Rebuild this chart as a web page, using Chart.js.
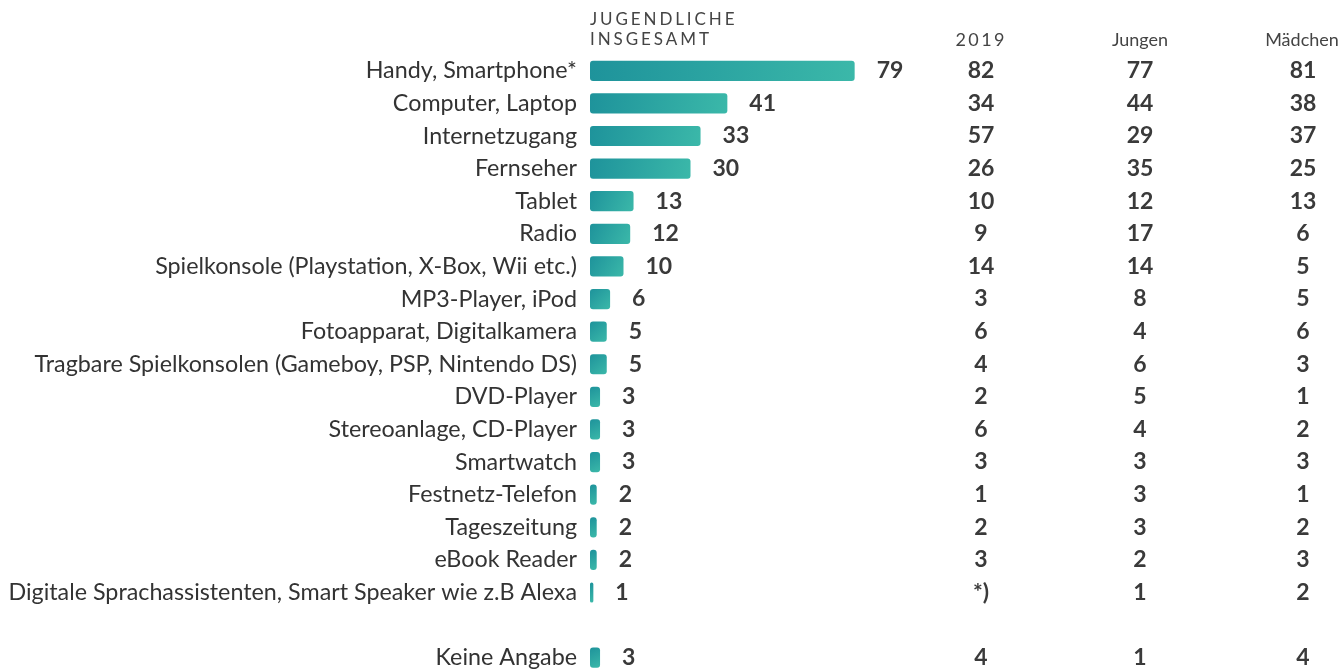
<!DOCTYPE html>
<html><head><meta charset="utf-8">
<script src="https://cdn.jsdelivr.net/npm/chart.js@4.4.1/dist/chart.umd.min.js"></script>
<style>
html,body{margin:0;padding:0;background:#fff;overflow:hidden;}
#wrap{position:relative;width:1342px;height:674px;}
</style></head>
<body><div id="wrap"><canvas id="c"></canvas></div>
<script>
const categories = ["Handy, Smartphone*","Computer, Laptop","Internetzugang","Fernseher","Tablet","Radio","Spielkonsole (Playstation, X-Box, Wii etc.)","MP3-Player, iPod","Fotoapparat, Digitalkamera","Tragbare Spielkonsolen (Gameboy, PSP, Nintendo DS)","DVD-Player","Stereoanlage, CD-Player","Smartwatch","Festnetz-Telefon","Tageszeitung","eBook Reader","Digitale Sprachassistenten, Smart Speaker wie z.B Alexa","","Keine Angabe"];
const insgesamt = [79,41,33,30,13,12,10,6,5,5,3,3,3,2,2,2,1,null,3];
const jahr2019 = ["82","34","57","26","10","9","14","3","6","4","2","6","3","1","2","3","*)","","4"];
const jungen = [77,44,29,35,12,17,14,8,4,6,5,4,3,3,3,2,1,null,1];
const maedchen = [81,38,37,25,13,6,5,5,6,3,1,2,3,1,2,3,2,null,4];
const columnHeaders = ["2019","Jungen","Mädchen"];
const mainHeader = ["JUGENDLICHE","INSGESAMT"];

function drawSpaced(ctx, text, x, y, sp, align){
  let w = 0; const chars=[...text];
  chars.forEach((ch,i)=>{ w += ctx.measureText(ch).width + (i<chars.length-1?sp:0); });
  let cx = align==='center' ? x - w/2 : x;
  ctx.textAlign='left';
  chars.forEach(ch=>{ ctx.fillText(ch,cx,y); cx += ctx.measureText(ch).width + sp; });
}

const overlay = {
  id:'overlay',
  afterDatasetsDraw(chart){
    const ctx = chart.ctx, xs = chart.scales.x, ys = chart.scales.y;
    ctx.save();
    ctx.textBaseline='middle';
    ctx.fillStyle='#444';
    ctx.font='400 17px Lato';
    drawSpaced(ctx, mainHeader[0], 590, 20, 2.9, 'left');
    drawSpaced(ctx, mainHeader[1], 590, 40, 2.9, 'left');
    ctx.font='400 18px Lato';
    drawSpaced(ctx, columnHeaders[0], 980, 40, 2.4, 'center');
    ctx.textAlign='center';
    ctx.fillText(columnHeaders[1], 1140, 40);
    ctx.fillText(columnHeaders[2], 1302, 40);
    ctx.font='700 23px Lato';
    ctx.fillStyle='#3a3a3a';
    categories.forEach((c,i)=>{
      const y = ys.getPixelForValue(i);
      if(insgesamt[i]!=null){
        ctx.textAlign='left';
        ctx.fillText(String(insgesamt[i]), xs.getPixelForValue(insgesamt[i])+22, y);
      }
      ctx.textAlign='center';
      if(jahr2019[i]) ctx.fillText(jahr2019[i], 981, y);
      if(jungen[i]!=null) ctx.fillText(String(jungen[i]), 1140, y);
      if(maedchen[i]!=null) ctx.fillText(String(maedchen[i]), 1303, y);
    });
    ctx.restore();
  }
};

new Chart(document.getElementById('c'), {
  type:'bar',
  data:{ labels:categories, datasets:[{
    data:insgesamt,
    backgroundColor:(context)=>{
      const chart=context.chart; if(!chart.chartArea) return '#2aa6a2';
      const xs=chart.scales.x, ys=chart.scales.y; const v=context.raw; if(v==null) return '#2aa6a2';
      const x0=xs.getPixelForValue(0), x1=xs.getPixelForValue(v), y=ys.getPixelForValue(context.dataIndex);
      const g=chart.ctx.createLinearGradient(x0,y-10,Math.max(x1,x0+4),y+10);
      g.addColorStop(0,'#1e939b'); g.addColorStop(1,'#3bb8a9');
      return g;
    },
    borderRadius:3, borderSkipped:false,
    barPercentage:0.62, categoryPercentage:1
  }]},
  options:{
    indexAxis:'y', responsive:true, maintainAspectRatio:false, animation:false,
    layout:{padding:{top:54.5,right:417,bottom:0,left:0}},
    plugins:{legend:{display:false}, tooltip:{enabled:false}},
    scales:{
      x:{display:false,min:0,max:100},
      y:{
        grid:{display:false,drawTicks:false}, border:{display:false},
        ticks:{font:{family:'Lato',size:23.3},color:'#333',padding:13,autoSkip:false},
        afterFit(s){ s.width=590; s.paddingTop=0; s.paddingBottom=0; }
      }
    }
  },
  plugins:[overlay]
});
</script></body></html>
